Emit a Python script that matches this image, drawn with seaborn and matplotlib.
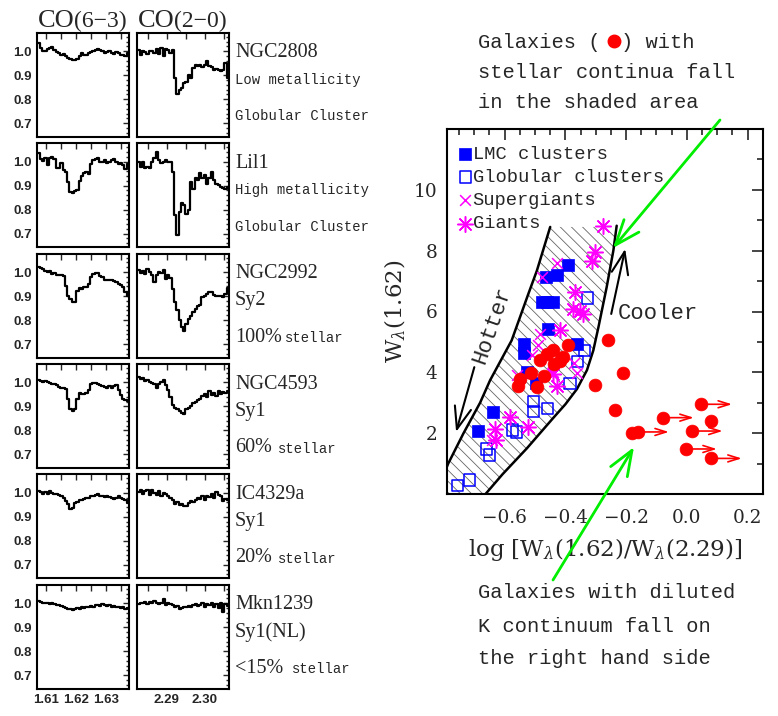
import numpy as np
import matplotlib
matplotlib.use("Agg")
import matplotlib.pyplot as plt
from matplotlib.ticker import MultipleLocator, FixedLocator, FuncFormatter, NullFormatter
from matplotlib.patches import FancyArrowPatch
from matplotlib.lines import Line2D
import seaborn as sns

# ---------------- spectra (continuum normalised) ----------------
h_ngc2808 = [1.035,1.012,1.003,1.000,1.010,1.013,1.017,1.006,0.997,0.993,0.986,0.990,0.979,0.972,0.966,0.962,0.965,0.969,0.979,0.993,
             0.986,0.983,0.993,0.997,1.003,1.007,1.011,1.005,1.000,0.993,0.997,1.003,0.994,0.989,0.997,0.993,0.983,0.986,0.979,0.993]
k_ngc2808 = [1.007,0.986,1.000,0.997,0.989,1.003,1.000,0.993,1.011,0.989,1.014,0.979,1.011,1.007,0.993,1.007,0.888,0.821,0.840,0.849,
             0.868,0.874,0.902,0.888,0.930,0.941,0.937,0.944,0.933,0.941,0.958,0.937,0.933,0.923,0.927,0.923,0.919,0.923,0.951,0.888]
h_lil1 = [1.035,1.011,1.003,1.014,0.986,1.017,1.021,1.011,0.972,0.975,0.993,0.965,0.955,0.916,0.874,0.868,0.877,0.881,0.919,0.941,
          0.951,0.958,0.947,0.989,1.007,1.011,1.014,1.000,0.997,1.007,0.993,1.000,1.007,1.011,0.997,0.989,0.993,0.986,0.969,0.989]
k_lil1 = [1.000,0.979,0.997,0.972,0.979,0.975,1.000,1.014,1.042,1.007,0.993,1.000,1.007,1.000,0.997,0.958,0.777,0.693,0.791,0.826,
          0.819,0.784,0.798,0.916,0.888,0.930,0.923,0.951,0.930,0.944,0.909,0.930,0.958,0.923,0.909,0.902,0.895,0.891,0.888,0.895]
h_ngc2992 = [1.021,1.017,1.011,1.003,1.000,1.003,0.994,0.997,0.989,0.986,0.986,0.983,0.944,0.902,0.888,0.874,0.874,0.923,0.933,0.930,
             0.937,0.937,0.951,0.979,0.993,0.997,0.997,0.983,0.979,0.969,0.965,0.969,0.967,0.961,0.958,0.951,0.947,0.937,0.919,0.902]
k_ngc2992 = [1.007,0.997,1.003,0.993,1.011,1.000,0.989,0.958,0.986,1.000,0.997,1.007,0.972,0.986,0.975,0.930,0.875,0.840,0.800,0.770,
             0.756,0.784,0.805,0.819,0.835,0.847,0.858,0.861,0.895,0.902,0.909,0.916,0.919,0.905,0.902,0.900,0.902,0.895,0.909,0.933]
h_ngc4593 = [1.011,1.007,1.003,1.006,1.000,0.997,0.992,0.994,0.989,0.983,0.979,0.978,0.972,0.930,0.888,0.881,0.891,0.933,0.955,0.953,
             0.950,0.958,0.969,0.993,0.997,0.997,0.992,0.989,0.986,0.983,0.979,0.986,0.975,0.986,0.989,0.969,0.947,0.933,0.927,0.923]
k_ngc4593 = [1.021,1.014,1.017,1.007,1.011,1.000,0.997,0.993,0.979,0.993,1.003,1.011,0.989,0.969,0.941,0.905,0.895,0.888,0.881,0.874,
             0.868,0.888,0.895,0.902,0.916,0.919,0.927,0.933,0.944,0.951,0.941,0.965,0.947,0.958,0.944,0.965,0.951,0.961,0.955,0.964]
h_ic4329a = [1.007,1.003,0.997,1.003,0.997,1.006,1.000,0.994,0.997,0.992,0.986,0.979,0.965,0.955,0.933,0.937,0.958,0.964,0.969,0.972,
             0.975,0.978,0.980,0.989,0.986,0.992,0.994,0.989,0.986,0.983,0.986,0.983,0.979,0.975,0.978,0.986,0.980,0.975,0.969,0.958]
k_ic4329a = [1.003,1.011,0.997,1.007,1.014,0.993,1.011,1.000,0.993,1.007,0.989,1.000,0.997,0.986,0.979,0.969,0.955,0.961,0.951,0.955,
             0.947,0.944,0.958,0.965,0.961,0.969,0.979,0.975,0.986,0.972,0.989,0.983,0.997,0.979,1.003,0.993,0.986,0.965,0.975,0.969]
h_mkn1239 = [1.011,1.007,1.003,1.000,1.003,0.997,1.000,0.997,0.994,0.992,0.989,0.986,0.979,0.975,0.978,0.972,0.975,0.979,0.978,0.983,
             0.980,0.983,0.986,0.989,0.986,0.992,0.994,0.989,0.997,0.992,0.989,0.993,0.986,0.989,0.983,0.986,0.979,0.983,0.975,0.979]
k_mkn1239 = [0.997,1.003,1.000,1.006,0.997,1.007,1.003,1.011,1.000,0.997,1.003,1.017,0.993,1.000,0.997,0.993,0.986,0.989,0.975,0.979,
             0.983,0.986,0.989,0.983,0.992,0.997,0.989,0.993,1.000,0.986,0.997,0.994,1.003,0.986,0.997,0.979,1.000,0.965,0.997,0.989]

wl_h = np.linspace(1.6073, 1.6374, 40)   # spectral pixel grid, H band
wl_k = np.linspace(2.2826, 2.3060, 40)   # spectral pixel grid, K band

names = ["NGC2808", "Lil1", "NGC2992", "NGC4593", "IC4329a", "Mkn1239"]
line2 = ["Low metallicity", "High metallicity", "Sy2", "Sy1", "Sy1", "Sy1(NL)"]
line3 = ["Globular Cluster", "Globular Cluster", "100%", "60%", "20%", "<15%"]
spec_h = [h_ngc2808, h_lil1, h_ngc2992, h_ngc4593, h_ic4329a, h_mkn1239]
spec_k = [k_ngc2808, k_lil1, k_ngc2992, k_ngc4593, k_ic4329a, k_mkn1239]

# ---------------- diagnostic diagram ----------------
lmc_x = [-0.392, -0.428, -0.464, -0.477, -0.460, -0.441, -0.456, -0.536, -0.536, -0.362, -0.527, -0.497, -0.637, -0.687]
lmc_y = [7.53, 7.21, 7.12, 6.30, 6.30, 6.30, 5.43, 4.93, 4.62, 4.92, 4.01, 3.65, 2.68, 2.08]
glob_x = [-0.327, -0.338, -0.359, -0.385, -0.505, -0.505, -0.458, -0.575, -0.560, -0.659, -0.651, -0.755, -0.716]
glob_y = [6.44, 4.72, 4.36, 3.63, 3.03, 2.72, 2.81, 2.10, 2.04, 1.48, 1.28, 0.27, 0.46]
sg_x = [-0.429, -0.478, -0.483, -0.489, -0.511, -0.362, -0.560, -0.440, -0.643, -0.370]
sg_y = [7.58, 7.12, 5.27, 4.89, 4.56, 3.98, 3.90, 4.01, 1.77, 4.30]
gi_x = [-0.277, -0.304, -0.311, -0.368, -0.374, -0.352, -0.341, -0.417, -0.440, -0.429, -0.582, -0.632, -0.629, -0.524]
gi_y = [8.80, 7.97, 7.67, 6.63, 6.09, 6.01, 5.92, 5.38, 3.96, 3.54, 2.53, 2.15, 1.79, 2.21]
gal_x = [-0.390, -0.440, -0.461, -0.483, -0.409, -0.418, -0.437, -0.514, -0.472, -0.549, -0.555, -0.494,
         -0.258, -0.211, -0.301, -0.238, -0.179, -0.161, -0.079, 0.047, 0.080, 0.016, -0.003, 0.079]
gal_y = [4.89, 4.74, 4.61, 4.39, 4.50, 4.36, 4.28, 3.98, 3.87, 3.79, 3.54, 3.52,
         5.07, 3.98, 3.57, 2.75, 1.99, 2.04, 2.51, 2.95, 2.40, 2.07, 1.48, 1.17]
# lower limits on the x value (arrows to the right)
lim_x = [-0.161, -0.079, 0.047, 0.016, -0.003, 0.079]
lim_y = [2.04, 2.51, 2.95, 2.07, 1.48, 1.17]

# stellar locus boundaries
left_x = [-0.827, -0.786, -0.736, -0.681, -0.648, -0.615, -0.577, -0.522, -0.494, -0.450]
left_y = [0.0, 1.0, 1.99, 3.0, 3.74, 4.35, 5.05, 6.58, 7.34, 8.78]
right_x = [-0.231, -0.242, -0.264, -0.291, -0.308, -0.329, -0.362, -0.400, -0.440, -0.527, -0.607, -0.663]
right_y = [8.82, 8.0, 6.8, 5.49, 4.72, 4.07, 3.45, 2.95, 2.5, 1.5, 0.65, 0.0]

sns.set_style("white")
plt.rcParams['font.family'] = ['DejaVu Serif']
plt.rcParams['mathtext.fontset'] = 'dejavuserif'
plt.rcParams['hatch.linewidth'] = 0.6

W, H = 778, 716
fig = plt.figure(figsize=(W / 100, H / 100), dpi=100)
mono = 'Liberation Mono'
serif = 'Liberation Serif'


def ftext(x, y, s, **kw):
    fig.text(x / W, 1 - y / H, s, **kw)


# ---- spectra panels ----
for i in range(6):
    top = 32.8 + 110.4 * i
    for j in range(2):
        left = [37.3, 137.3][j]
        ax = fig.add_axes([left / W, 1 - (top + 103.9) / H, 91.7 / W, 103.9 / H])
        wl = wl_h if j == 0 else wl_k
        flux = spec_h[i] if j == 0 else spec_k[i]
        sns.lineplot(x=wl, y=flux, ax=ax, color='black', lw=1.6, drawstyle='steps-mid',
                     estimator=None, sort=False)
        ax.set_xlabel('')
        ax.set_ylabel('')
        ax.set_ylim(0.644, 1.077)
        if j == 0:
            ax.set_xlim(1.6069, 1.6378)
            ax.xaxis.set_major_locator(FixedLocator([1.61, 1.62, 1.63]))
            ax.xaxis.set_minor_locator(FixedLocator([1.615, 1.625, 1.635]))
        else:
            ax.set_xlim(2.2823, 2.3063)
            ax.xaxis.set_major_locator(FixedLocator([2.29, 2.30]))
            ax.xaxis.set_minor_locator(FixedLocator([2.285, 2.295, 2.305]))
        ax.yaxis.set_major_locator(FixedLocator([0.7, 0.8, 0.9, 1.0]))
        ax.yaxis.set_minor_locator(MultipleLocator(0.02))
        ax.tick_params(which='both', direction='in', top=True, right=True, width=1.0,
                       labelsize=9.5, pad=4)
        ax.tick_params(which='major', length=4.5)
        ax.tick_params(axis='y', which='minor', length=2.5)
        ax.tick_params(axis='x', which='minor', length=4.5)
        ax.xaxis.set_major_formatter(FuncFormatter(lambda v, p: f'{v:.2f}'))
        ax.yaxis.set_major_formatter(FuncFormatter(lambda v, p: f'{v:.1f}'))
        if j == 1:
            ax.yaxis.set_major_formatter(NullFormatter())
        if i < 5:
            ax.xaxis.set_major_formatter(NullFormatter())
        for lab in ax.get_xticklabels() + ax.get_yticklabels():
            lab.set_fontfamily('Liberation Sans')
            lab.set_fontweight('bold')
        for sp in ax.spines.values():
            sp.set_linewidth(1.5)
            sp.set_color('black')

    y1 = 51.3 + 110.4 * i
    ftext(235, y1 + 1.5, names[i], family=serif, size=14.5, va='center')
    if i < 2:
        ftext(235, y1 + 28.5, line2[i], family=mono, size=10, va='center')
        ftext(235, y1 + 65, line3[i], family=mono, size=10, va='center')
    else:
        ftext(235, y1 + 28.5, line2[i], family=serif, size=14.5, va='center')
        ftext(235, y1 + 65, line3[i], family=serif, size=14.5, va='center')
        ftext([285, 278, 278, 292][i - 2], y1 + 66, 'stellar', family=mono, size=10, va='center')

# column headers
ftext(38, 27, 'CO', family=serif, size=19, va='baseline')
ftext(74, 27, '(6\u22123)', family=serif, size=17, va='baseline')
ftext(138, 27, 'CO', family=serif, size=19, va='baseline')
ftext(174, 27, '(2\u22120)', family=serif, size=17, va='baseline')

# ---- diagnostic diagram ----
ax = fig.add_axes([447.3 / W, 1 - 494 / H, 315.4 / W, 365 / H])
poly_x = left_x + right_x
poly_y = left_y[:-1] + [8.78, 8.78] + right_y[1:]
ax.fill(poly_x, poly_y, facecolor='none', edgecolor='0.4', hatch='\\\\\\', lw=0, zorder=1)
sns.lineplot(x=left_x, y=left_y, ax=ax, color='black', lw=1.8, sort=False, estimator=None, zorder=2)
sns.lineplot(x=right_x, y=right_y, ax=ax, color='black', lw=1.8, sort=False, estimator=None, zorder=2)

sns.scatterplot(x=lmc_x, y=lmc_y, ax=ax, marker='s', s=66, color='#0000ff', edgecolor='#0000ff',
                linewidth=0.5, label='LMC clusters', zorder=4)
sns.scatterplot(x=glob_x, y=glob_y, ax=ax, marker='s', s=66, color='#0000ff', facecolor='none',
                edgecolor='#0000ff', linewidth=1.1, label='Globular clusters', zorder=3)
sns.scatterplot(x=sg_x, y=sg_y, ax=ax, marker='x', s=60, color='#ff00ff', linewidth=1.1,
                label='Supergiants', zorder=4)
sns.scatterplot(x=gi_x, y=gi_y, ax=ax, marker=(8, 2, 0), s=125, color='#ff00ff', linewidth=1.1,
                label='Giants', zorder=4)
for x0, y0 in zip(lim_x, lim_y):
    ax.annotate('', xy=(x0 + 0.102, y0), xytext=(x0, y0),
                arrowprops=dict(arrowstyle='->,head_length=0.8,head_width=0.25', color='red',
                                lw=1.2, shrinkA=0, shrinkB=0), zorder=4)
sns.scatterplot(x=gal_x, y=gal_y, ax=ax, marker='o', s=85, color='#ff0000', edgecolor='#ff0000',
                linewidth=0.5, zorder=5)

ax.set_xlim(-0.789, 0.250)
ax.set_ylim(0, 12)
ax.xaxis.set_major_locator(MultipleLocator(0.2))
ax.xaxis.set_minor_locator(MultipleLocator(0.05))
ax.set_yticks([2, 4, 6, 8, 10])
ax.yaxis.set_minor_locator(MultipleLocator(1))
ax.tick_params(which='both', direction='in', top=True, right=True, width=1.2, labelsize=13.3)
ax.tick_params(which='major', length=8)
ax.tick_params(which='minor', length=4.5)
ax.tick_params(axis='x', pad=11)
ax.tick_params(axis='y', pad=7)
for sp in ax.spines.values():
    sp.set_linewidth(1.5)
    sp.set_color('black')
ax.set_xlabel(r'$\mathrm{log}\ [\mathrm{W}_{\lambda}\mathrm{(1.62)/W}_{\lambda}\mathrm{(2.29)}]$',
              fontsize=16.5, labelpad=6)
ax.set_ylabel(r'$\mathrm{W}_{\lambda}\mathrm{(1.62)}$', fontsize=16.5, labelpad=4)

handles, labels = ax.get_legend_handles_labels()
ax.legend(handles, labels, loc='upper left', bbox_to_anchor=(0.036, 0.955), frameon=False,
          borderaxespad=0, borderpad=0, handlelength=0.7, handletextpad=0.05, labelspacing=0.33,
          prop={'family': mono, 'size': 13.5})

ax.annotate('', xy=(-0.760, 2.04), xytext=(-0.700, 4.17),
            arrowprops=dict(arrowstyle='->,head_length=0.8,head_width=0.3', lw=1.5, color='black',
                            mutation_scale=20, shrinkA=0, shrinkB=0))
ax.text(-0.640, 5.54, 'Hotter', rotation=71, ha='center', va='center', family=mono, size=16)
ax.annotate('', xy=(-0.203, 8.06), xytext=(-0.249, 5.92),
            arrowprops=dict(arrowstyle='->,head_length=0.8,head_width=0.3', lw=1.5, color='black',
                            mutation_scale=20, shrinkA=0, shrinkB=0))
ax.text(-0.226, 5.92, 'Cooler', ha='left', va='center', family=mono, size=16)

# ---- annotations outside the axes ----
green = '#00ee00'
for (xa, ya), (xb, yb) in [((720, 120), (613, 248)), ((553, 580), (634, 447))]:
    fig.add_artist(FancyArrowPatch((xa / W, 1 - ya / H), (xb / W, 1 - yb / H),
                                   transform=fig.transFigure, arrowstyle='->,head_length=0.9,head_width=0.35',
                                   mutation_scale=20, color=green, lw=2, shrinkA=0, shrinkB=0))

ftext(478, 42, 'Galaxies (', family=mono, size=14.7, va='center')
fig.add_artist(Line2D([614 / W], [1 - 41 / H], marker='o', markersize=9, color='red',
                      linestyle='none', transform=fig.transFigure))
ftext(621, 42, ') with', family=mono, size=14.7, va='center')
ftext(478, 72, 'stellar continua fall', family=mono, size=14.7, va='center')
ftext(478, 103, 'in the shaded area', family=mono, size=14.7, va='center')
ftext(478, 593, 'Galaxies with diluted', family=mono, size=14.7, va='center')
ftext(478, 627, 'K continuum fall on', family=mono, size=14.7, va='center')
ftext(478, 659, 'the right hand side', family=mono, size=14.7, va='center')

fig.savefig('out.png', dpi=100)
